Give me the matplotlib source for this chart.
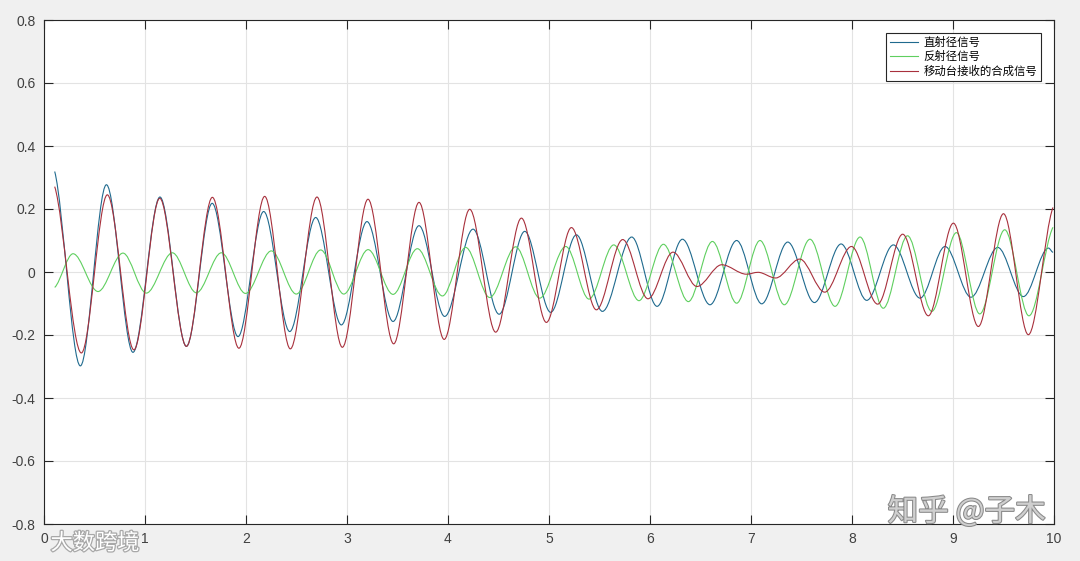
import numpy as np
import matplotlib
matplotlib.use("Agg")
import matplotlib.pyplot as plt
from matplotlib.path import Path
from matplotlib.patches import PathPatch
from matplotlib.lines import Line2D
import matplotlib.patheffects as pe

plt.rcParams["font.family"] = ["Liberation Sans", "Noto Sans CJK SC", "DejaVu Sans"]

# extrema (t, value); first/last entries are the line ends
direct_t = [0.106, 0.36, 0.618, 0.881, 1.148, 1.41, 1.665, 1.921, 2.175, 2.433, 2.69, 2.944,
            3.198, 3.456, 3.713, 3.967, 4.248, 4.506, 4.76, 5.017, 5.271, 5.529, 5.819, 6.07,
            6.321, 6.594, 6.858, 7.106, 7.364, 7.628, 7.892, 8.146, 8.41, 8.674, 8.921, 9.178,
            9.443, 9.697, 9.945, 9.99]
direct_v = [0.319, -0.298, 0.277, -0.255, 0.238, -0.236, 0.218, -0.205, 0.192, -0.189, 0.173,
            -0.168, 0.160, -0.157, 0.147, -0.141, 0.136, -0.134, 0.129, -0.128, 0.118, -0.125,
            0.111, -0.109, 0.104, -0.104, 0.100, -0.101, 0.095, -0.097, 0.089, -0.090, 0.086,
            -0.083, 0.081, -0.080, 0.078, -0.078, 0.076, 0.062]

reflect_t = [0.106, 0.288, 0.535, 0.782, 1.013, 1.271, 1.509, 1.756, 1.995, 2.251, 2.498, 2.74,
             2.968, 3.209, 3.456, 3.697, 3.945, 4.175, 4.413, 4.67, 4.908, 5.166, 5.396, 5.641,
             5.891, 6.133, 6.38, 6.618, 6.858, 7.089, 7.33, 7.584, 7.832, 8.08, 8.31, 8.55,
             8.79, 9.034, 9.265, 9.512, 9.752, 9.99]
reflect_v = [-0.049, 0.058, -0.062, 0.060, -0.067, 0.061, -0.066, 0.061, -0.068, 0.067, -0.070,
             0.070, -0.070, 0.071, -0.071, 0.074, -0.076, 0.078, -0.081, 0.080, -0.083, 0.081,
             -0.086, 0.086, -0.091, 0.088, -0.094, 0.097, -0.099, 0.100, -0.104, 0.104, -0.109,
             0.111, -0.115, 0.115, -0.125, 0.125, -0.133, 0.134, -0.139, 0.142]

sum_t = [0.106, 0.37, 0.627, 0.89, 1.146, 1.41, 1.667, 1.93, 2.185, 2.439, 2.703, 2.954, 3.208,
         3.462, 3.713, 3.962, 4.215, 4.472, 4.727, 4.974, 5.222, 5.469, 5.73, 5.98, 6.228,
         6.465, 6.71, 6.955, 7.07, 7.244, 7.483, 7.73, 7.995, 8.254, 8.502, 8.756, 9.004,
         9.251, 9.50, 9.746, 9.99]
sum_v = [0.271, -0.257, 0.245, -0.247, 0.234, -0.236, 0.237, -0.242, 0.240, -0.244, 0.238,
         -0.239, 0.231, -0.228, 0.221, -0.214, 0.199, -0.191, 0.171, -0.160, 0.141, -0.120,
         0.103, -0.085, 0.063, -0.046, 0.023, -0.007, -0.001, -0.019, 0.041, -0.064, 0.081,
         -0.102, 0.120, -0.139, 0.155, -0.173, 0.185, -0.199, 0.205]

labels = ["直射径信号", "反射径信号", "移动台接收的合成信号"]
colors = ["#1f6a8e", "#5fcf5f", "#a8303c"]

xticks = list(range(0, 11))
yticks = [-0.8, -0.6, -0.4, -0.2, 0, 0.2, 0.4, 0.6, 0.8]
ytick_labels = ["-0.8", "-0.6", "-0.4", "-0.2", "0", "0.2", "0.4", "0.6", "0.8"]


def extrema_path(t, v):
    """Smooth path through extrema: flat tangents inside, half-chord slope at the ends."""
    t = np.asarray(t, float); v = np.asarray(v, float)
    m = np.zeros_like(v)
    m[0] = 0.5 * (v[1] - v[0]) / (t[1] - t[0])
    m[-1] = 0.5 * (v[-1] - v[-2]) / (t[-1] - t[-2])
    verts = [(t[0], v[0])]; codes = [Path.MOVETO]
    for i in range(len(t) - 1):
        d = (t[i + 1] - t[i]) / 3
        verts += [(t[i] + d, v[i] + m[i] * d), (t[i + 1] - d, v[i + 1] - m[i + 1] * d),
                  (t[i + 1], v[i + 1])]
        codes += [Path.CURVE4] * 3
    return Path(verts, codes)


fig = plt.figure(figsize=(10.8, 5.61), dpi=100, facecolor="#f0f0f0")
ax = fig.add_axes([44 / 1080, 37 / 561, 1010 / 1080, 504 / 561])
ax.set_facecolor("white")

series = [(direct_t, direct_v), (reflect_t, reflect_v), (sum_t, sum_v)]
for (t, v), c in zip(series, colors):
    ax.add_patch(PathPatch(extrema_path(t, v), fill=False, edgecolor=c, lw=0.8, zorder=3))

ax.set_xlim(0, 10); ax.set_ylim(-0.8, 0.8)
ax.set_xticks(xticks); ax.set_xticklabels([str(x) for x in xticks])
ax.set_yticks(yticks); ax.set_yticklabels(ytick_labels)
ax.grid(True, color="#e3e3e3", lw=0.8, zorder=0)
ax.tick_params(direction="in", length=6.5, width=0.8, top=True, right=True,
               labelsize=10, colors="#262626", labelcolor="#404040", pad=6)
for s in ax.spines.values():
    s.set_color("#262626"); s.set_linewidth(0.8)

handles = [Line2D([], [], color=c, lw=0.8) for c in colors]
leg = ax.legend(handles, labels, loc="upper right", frameon=True, fancybox=False,
                edgecolor="#262626", framealpha=1, borderaxespad=1.1, handlelength=2.5,
                handletextpad=0.5, labelspacing=0.3, borderpad=0.35,
                prop={"family": ["Noto Sans CJK SC"], "size": 8.2})
leg.get_frame().set_linewidth(0.8)

# watermarks seen on the picture
fig.text(0.895, 0.088, "知乎 @子木", fontsize=22, color="#cfcfcf", family=["Noto Sans CJK SC"],
         ha="center", va="center", zorder=10,
         path_effects=[pe.withStroke(linewidth=1.5, foreground="#8a8a8a")])
fig.text(0.088, 0.032, "大数跨境", fontsize=16, color="white", family=["Noto Sans CJK SC"],
         ha="center", va="center", zorder=10,
         path_effects=[pe.withStroke(linewidth=1.8, foreground="#a8a8a8")])

fig.savefig("out.png", dpi=100, facecolor=fig.get_facecolor())
